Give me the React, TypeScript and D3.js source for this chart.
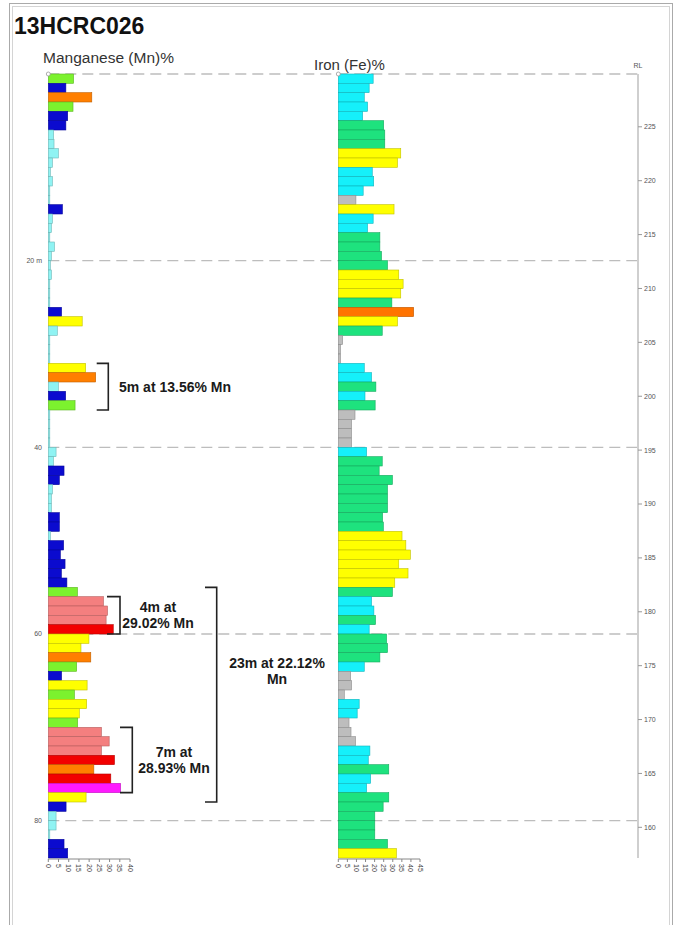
import React, { useEffect, useRef } from 'react';
import * as d3 from 'd3';

const holeId = '13HCRC026';

// one value per metre, 0 m to 84 m downhole
const mnValues = [
  12.4, 8.6, 21.3, 12.1, 9.5, 8.6, 2.6, 2.8, 4.9, 2.0,
  1.0, 2.0, 0.5, 0.3, 6.9, 2.0, 1.5, 0.6, 3.0, 1.5,
  1.0, 1.5, 0.5, 0.5, 0.5, 6.5, 16.6, 4.4, 0.5, 0.5,
  0.5, 18.3, 23.2, 4.9, 8.5, 13.1, 0.5, 0.4, 0.4, 0.4,
  3.8, 2.5, 7.7, 5.4, 2.0, 1.5, 1.5, 5.4, 5.4, 1.0,
  7.5, 5.9, 8.2, 6.4, 9.1, 14.3, 27.0, 29.0, 28.3, 31.8,
  19.9, 16.0, 20.8, 13.9, 6.5, 19.0, 12.8, 18.8, 15.2, 14.4,
  26.0, 29.8, 26.0, 32.4, 22.3, 30.6, 35.4, 18.5, 8.7, 3.8,
  3.8, 0.5, 7.7, 9.5,
];

const feValues = [
  19.2, 17.0, 14.3, 16.1, 13.4, 25.0, 25.6, 25.6, 34.4, 32.6,
  18.7, 19.5, 13.7, 9.7, 30.7, 19.2, 16.1, 22.9, 22.9, 23.8,
  27.1, 33.3, 35.7, 34.4, 29.5, 41.5, 32.6, 24.2, 2.4, 1.2,
  1.2, 14.3, 18.3, 20.7, 14.7, 20.3, 9.2, 7.3, 7.3, 7.3,
  15.6, 24.2, 22.5, 29.8, 27.1, 27.1, 27.1, 24.4, 24.8, 35.1,
  37.2, 39.7, 33.3, 38.4, 31.1, 29.8, 18.3, 19.6, 20.5, 17.0,
  26.6, 27.1, 22.9, 14.3, 6.8, 7.3, 3.3, 11.5, 10.4, 5.9,
  7.0, 9.5, 17.4, 16.5, 27.8, 17.8, 15.6, 27.8, 24.7, 20.1,
  20.1, 20.1, 27.1, 32.0,
];

const depthTicks = [0, 20, 40, 60, 80];
const depthTickLabels = ['', '20 m', '40', '60', '80'];
const rlTicks = [225, 220, 215, 210, 205, 200, 195, 190, 185, 180, 175, 170, 165, 160];
const mnAxisTicks = [0, 5, 10, 15, 20, 25, 30, 35, 40];
const feAxisTicks = [0, 5, 10, 15, 20, 25, 30, 35, 40, 45];

const mnBreaks = [5, 10, 15, 20, 25, 30, 35];
const mnColors = ['#8ff3f3', '#0b0bcf', '#7cf22e', '#ffff00', '#ff7f00', '#f47f7f', '#f20000', '#ff19ff'];
const feBreaks = [10, 20, 30, 40];
const feColors = ['#bdbdbd', '#15f0fa', '#1ee27e', '#ffff00', '#ff7300'];

const intercepts = [
  { from: 31, to: 36, lines: ['5m at 13.56% Mn'] },
  { from: 56, to: 60, lines: ['4m at', '29.02% Mn'] },
  { from: 70, to: 77, lines: ['7m at', '28.93% Mn'] },
  { from: 55, to: 78, lines: ['23m at 22.12%', 'Mn'] },
];

const collarRL = 229.9;
const holeDip = 60;
const holeLength = 84;

const font = 'Liberation Sans, Arial, sans-serif';

export default function App() {
  const ref = useRef<SVGSVGElement>(null);

  useEffect(() => {
    const svg = d3.select(ref.current);
    svg.selectAll('*').remove();

    const y = d3.scaleLinear().domain([0, holeLength]).range([74, 858]);
    const sinDip = Math.sin((holeDip * Math.PI) / 180);
    const yRL = d3.scaleLinear()
      .domain([collarRL, collarRL - holeLength * sinDip])
      .range([74, 858]);
    const xMn = d3.scaleLinear().domain([0, 40]).range([48.3, 130]);
    const xFe = d3.scaleLinear().domain([0, 45]).range([338.3, 420]);
    const mnColor = d3.scaleThreshold<number, string>().domain(mnBreaks).range(mnColors);
    const feColor = d3.scaleThreshold<number, string>().domain(feBreaks).range(feColors);
    const axisRight = 638;

    // frame
    svg.append('rect')
      .attr('x', 9.5).attr('y', 3.5).attr('width', 663).attr('height', 940)
      .attr('fill', '#fff').attr('stroke', '#aaa');
    svg.append('rect')
      .attr('x', 12.5).attr('y', 6.5).attr('width', 657).attr('height', 940)
      .attr('fill', 'none').attr('stroke', '#d4d4d4');

    svg.append('text')
      .attr('x', 14).attr('y', 34)
      .text(holeId)
      .style('font-family', font)
      .style('font-weight', 'bold')
      .style('font-size', '23px')
      .style('fill', '#111');

    svg.append('text')
      .attr('x', 43).attr('y', 63)
      .text('Manganese (Mn)%')
      .style('font-family', font)
      .style('font-size', '15.5px')
      .style('fill', '#333');

    svg.append('text')
      .attr('x', 314).attr('y', 70)
      .text('Iron (Fe)%')
      .style('font-family', font)
      .style('font-size', '15px')
      .style('fill', '#333');

    // depth grid
    svg.selectAll(null).data(depthTicks).enter().append('line')
      .attr('x1', xMn(0)).attr('x2', axisRight)
      .attr('y1', d => y(d)).attr('y2', d => y(d))
      .attr('stroke', '#bdbdbd').attr('stroke-width', 1.3)
      .attr('stroke-dasharray', '11,6');

    svg.selectAll(null).data(depthTicks).enter().append('text')
      .attr('x', 42).attr('y', d => y(d))
      .attr('dy', '0.35em')
      .attr('text-anchor', 'end')
      .text((d, i) => depthTickLabels[i])
      .style('font-family', font).style('font-size', '7px').style('fill', '#555');

    // RL axis
    svg.append('line')
      .attr('x1', axisRight).attr('x2', axisRight)
      .attr('y1', yRL.range()[0]).attr('y2', yRL.range()[1])
      .attr('stroke', '#cfcfcf').attr('stroke-width', 2);
    svg.append('text')
      .attr('x', axisRight).attr('y', 68)
      .attr('text-anchor', 'middle')
      .text('RL')
      .style('font-family', font).style('font-size', '7px').style('fill', '#555');
    const rl = svg.selectAll(null).data(rlTicks).enter().append('g')
      .attr('transform', d => `translate(${axisRight},${yRL(d)})`);
    rl.append('line').attr('x1', 0).attr('x2', 4).attr('stroke', '#999');
    rl.append('text')
      .attr('x', 6).attr('dy', '0.35em')
      .text(d => d)
      .style('font-family', font).style('font-size', '7px').style('fill', '#555');

    const drawColumn = (values: number[], x: d3.ScaleLinear<number, number>,
      color: d3.ScaleThreshold<number, string>, ticks: number[]) => {
      const g = svg.append('g');
      g.selectAll('rect').data(values).enter().append('rect')
        .attr('x', x(0))
        .attr('y', (d, i) => y(i))
        .attr('width', d => Math.max(1.5, x(d) - x(0)))
        .attr('height', (d, i) => y(i + 1) - y(i))
        .attr('fill', d => color(d))
        .attr('stroke', d => d3.color(color(d))!.darker(0.8).toString())
        .attr('stroke-width', 0.6);

      g.append('circle')
        .attr('cx', x(0)).attr('cy', y(0)).attr('r', 2)
        .attr('fill', '#fff').attr('stroke', '#999').attr('stroke-width', 0.8);

      const base = y(holeLength) + 1;
      g.append('line')
        .attr('x1', x(0)).attr('x2', x(ticks[ticks.length - 1]))
        .attr('y1', base).attr('y2', base)
        .attr('stroke', '#888');
      g.selectAll(null).data(ticks).enter().append('line')
        .attr('x1', d => x(d)).attr('x2', d => x(d))
        .attr('y1', base).attr('y2', base + 3)
        .attr('stroke', '#888');
      g.selectAll(null).data(ticks).enter().append('text')
        .attr('transform', d => `translate(${x(d)},${base + 5}) rotate(90)`)
        .attr('dy', '0.35em')
        .text(d => d)
        .style('font-family', font).style('font-size', '7px').style('fill', '#444');
    };

    drawColumn(mnValues, xMn, mnColor, mnAxisTicks);
    drawColumn(feValues, xFe, feColor, feAxisTicks);

    // intercept brackets
    const bracketX = [108.3, 120, 132.3, 216.7];
    const armX = [96.7, 107, 120, 205];
    const labelX = [119, 158, 174, 277];
    const labelShift = [0, 0, 0, -24];
    intercepts.forEach((it, k) => {
      const y0 = y(it.from);
      const y1 = y(it.to);
      svg.append('path')
        .attr('d', `M${armX[k]},${y0}H${bracketX[k]}V${y1}H${armX[k]}`)
        .attr('fill', 'none').attr('stroke', '#222').attr('stroke-width', 1.6);
      const mid = (y0 + y1) / 2 + labelShift[k];
      const single = it.lines.length === 1;
      const t = svg.append('text')
        .attr('text-anchor', single ? 'start' : 'middle')
        .style('font-family', font)
        .style('font-weight', 'bold')
        .style('font-size', '14px')
        .style('fill', '#1a1a1a');
      it.lines.forEach((line, j) => {
        t.append('tspan')
          .attr('x', labelX[k])
          .attr('y', mid + (j - (it.lines.length - 1) / 2) * 16)
          .attr('dy', '0.35em')
          .text(line);
      });
    });
  }, []);

  return (
    <svg ref={ref} width={674} height={925}
      style={{ position: 'absolute', left: 0, top: 0, background: '#fff' }} />
  );
}
